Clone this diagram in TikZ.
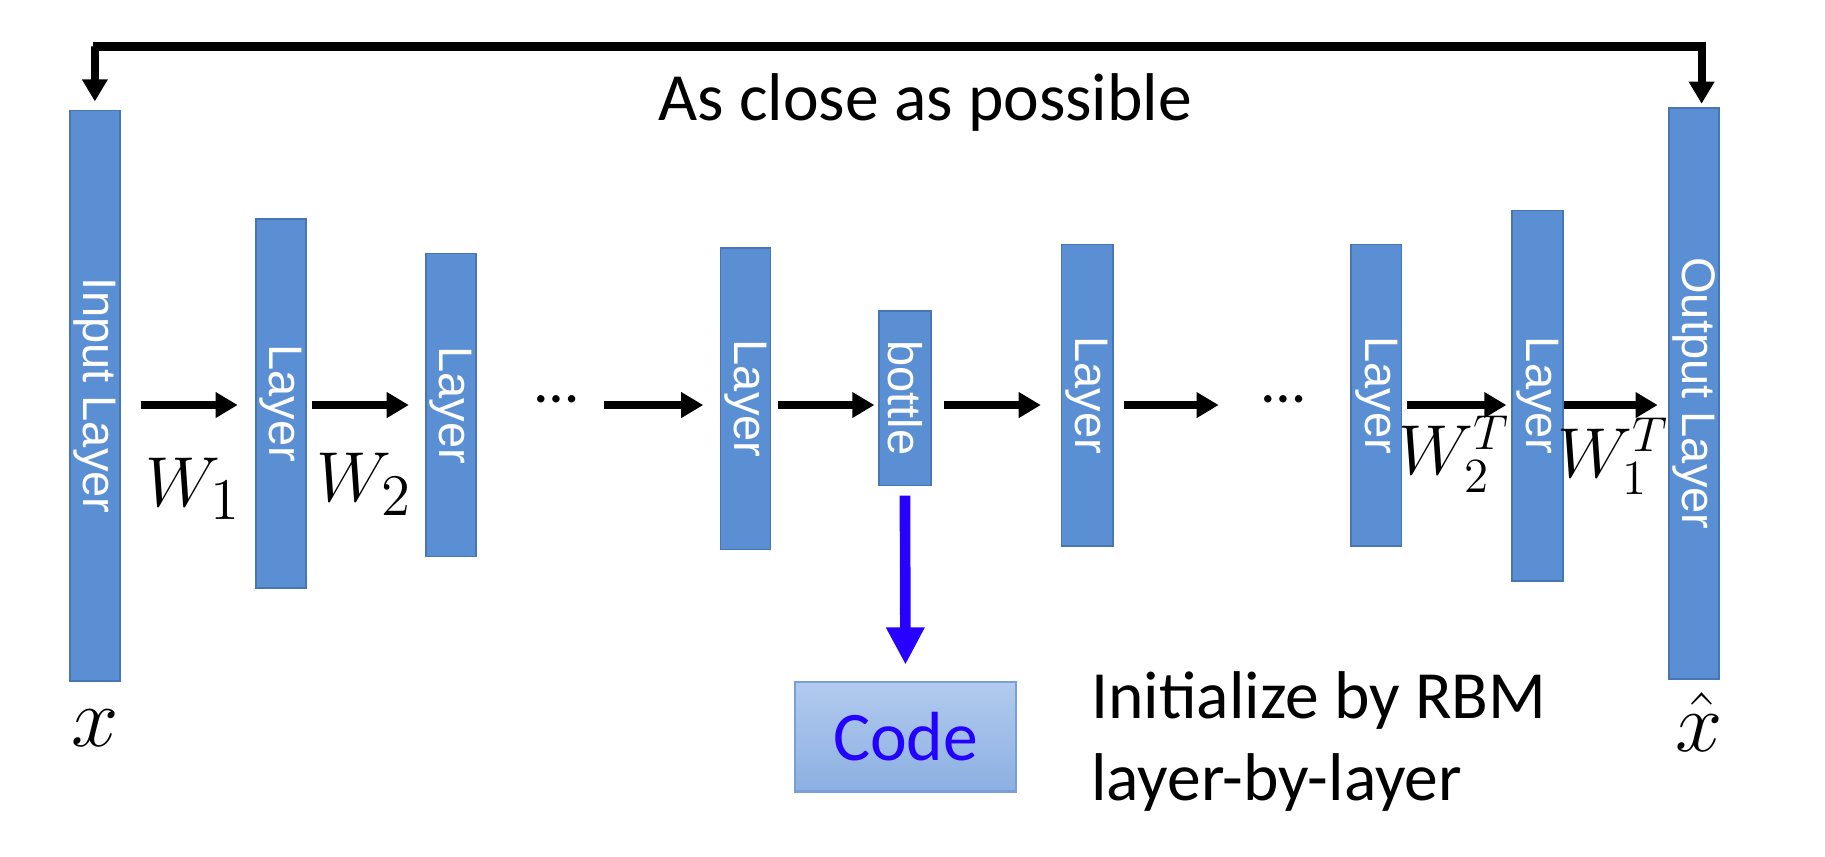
\documentclass[tikz,border=0pt]{standalone}
\usepackage{fontspec}
\setmainfont{Carlito}
\newfontfamily\arialfont{Liberation Sans}
\usetikzlibrary{arrows.meta,calc}
\definecolor{layerblue}{RGB}{91,143,211}
\definecolor{layeredge}{RGB}{72,118,180}
\definecolor{codetop}{RGB}{178,202,238}
\definecolor{codebot}{RGB}{140,176,226}
\definecolor{codeedge}{RGB}{120,160,215}
\definecolor{codetext}{RGB}{35,0,255}
\definecolor{bluearrow}{RGB}{40,0,255}
\begin{document}
\begin{tikzpicture}[x=0.01cm,y=-0.01cm,
  layer/.style={rectangle, fill=layerblue, draw=layeredge, line width=0.4pt, inner sep=0pt, minimum width=0.43cm},
  ltext/.style={rotate=-90, text=white, font=\arialfont\fontsize{11.5}{12}\selectfont, inner sep=0pt},
  arr/.style={line width=2pt, -{Triangle[length=0.19cm,width=0.21cm]}},
  barr/.style={line width=2.6pt, draw=bluearrow, -{Triangle[length=0.32cm,width=0.31cm]}},
  wlab/.style={font=\fontsize{19}{19}\selectfont, inner sep=0pt},
  dots/.style={font=\fontsize{15}{15}\selectfont, inner sep=0pt},
  bigtext/.style={font=\fontsize{16.5}{20}\selectfont, inner sep=0pt},
]
\useasboundingbox (0,0) rectangle (1568,736);
\fill[white] (0,0) rectangle (1568,736);
\coordinate (ay) at (0,348);

% layers
\node[layer, minimum height=4.90cm] (in) at (81.5,340) {};
\node[ltext] (inT) at (in) {Input Layer};
\node[layer, minimum height=3.17cm] (l1) at (241.5,346.5) {};
\node[ltext] (l1T) at (l1) {Layer};
\node[layer, minimum height=2.60cm] (l2) at (387.5,348) {};
\node[ltext] (l2T) at (l2) {Layer};
\node[layer, minimum height=2.59cm] (l3) at (640.5,342.5) {};
\node[ltext] (l3T) at (l3) {Layer};
\node[layer, minimum height=1.50cm, minimum width=0.45cm] (bt) at (777.5,342) {};
\node[ltext] (btT) at (bt) {bottle};
\node[layer, minimum height=2.59cm, minimum width=0.44cm] (l4) at (934,339.5) {};
\node[ltext] (l4T) at (l4) {Layer};
\node[layer, minimum height=2.59cm] (l5) at (1182.5,339.5) {};
\node[ltext] (l5T) at (l5) {Layer};
\node[layer, minimum height=3.18cm, minimum width=0.44cm] (l6) at (1321,340) {};
\node[ltext] (l6T) at (l6) {Layer};
\node[layer, minimum height=4.90cm] (out) at (1455.5,338) {};
\node[ltext] (outT) at (out) {Output Layer};

% dots
\node[dots] (d1) at (478,343) {\dots};
\node[dots] (d2) at (1103,343) {\dots};

% horizontal arrows
\draw[arr, shorten <=0.17cm, shorten >=0.15cm] (in.east |- ay) -- (l1.west |- ay);
\draw[arr, shorten <=0.04cm, shorten >=0.14cm] (l1.east |- ay) -- (l2.west |- ay);
\draw[arr, shorten <=0.22cm, shorten >=0.14cm] (d1.east |- ay) -- (l3.west |- ay);
\draw[arr, shorten <=0.06cm, shorten >=0.03cm] (l3.east |- ay) -- (bt.west |- ay);
\draw[arr, shorten <=0.10cm, shorten >=0.17cm] (bt.east |- ay) -- (l4.west |- ay);
\draw[arr, shorten <=0.09cm, shorten >=0.37cm] (l4.east |- ay) -- (d2.west |- ay);
\draw[arr, shorten <=0.04cm, shorten >=0.04cm] (l5.east |- ay) -- (l6.west |- ay);
\draw[arr, shorten <=0.0cm, shorten >=0.09cm] (l6.east |- ay) -- (out.west |- ay);

% weight labels
\node[wlab] (w1) at (166,420) {$W_1$};
\node[wlab] (w2) at (313,416) {$W_2$};
\node[wlab, font=\fontsize{18}{18}\selectfont] (w2t) at (1250,390) {$W_2^T$};
\node[wlab, font=\fontsize{18}{18}\selectfont] (w1t) at (1386,392) {$W_1^T$};

% x labels
\node[font=\fontsize{20}{20}\selectfont, inner sep=0pt] (xl) at (82,626) {$x$};
\node[font=\fontsize{20}{20}\selectfont, inner sep=0pt] (xh) at (1460,620) {$\hat{x}$};

% top bracket
\coordinate (tl) at (80,40);
\coordinate (tr) at (1462,40);
\draw[arr, shorten >=0.07cm] (tl) -- (tl -| in) -- (in.north);
\draw[arr, shorten >=0.03cm] (tl) -- (tr) -- (tr |- out.north);
\node[bigtext] (close) at (795,88) {As close as possible};

% code
\node[rectangle, top color=codetop, bottom color=codebot, draw=codeedge, line width=0.5pt,
      minimum width=1.90cm, minimum height=0.94cm, inner sep=0pt,
      text=codetext, font=\fontsize{17}{17}\selectfont] (code) at (778,633) {Code};
\draw[barr, shorten <=0.08cm, shorten >=0.14cm] (bt.south) -- (code.north);

\node[bigtext, anchor=west, align=left] (init) at (937,637) {Initialize by RBM\\layer-by-layer};
\end{tikzpicture}
\end{document}
